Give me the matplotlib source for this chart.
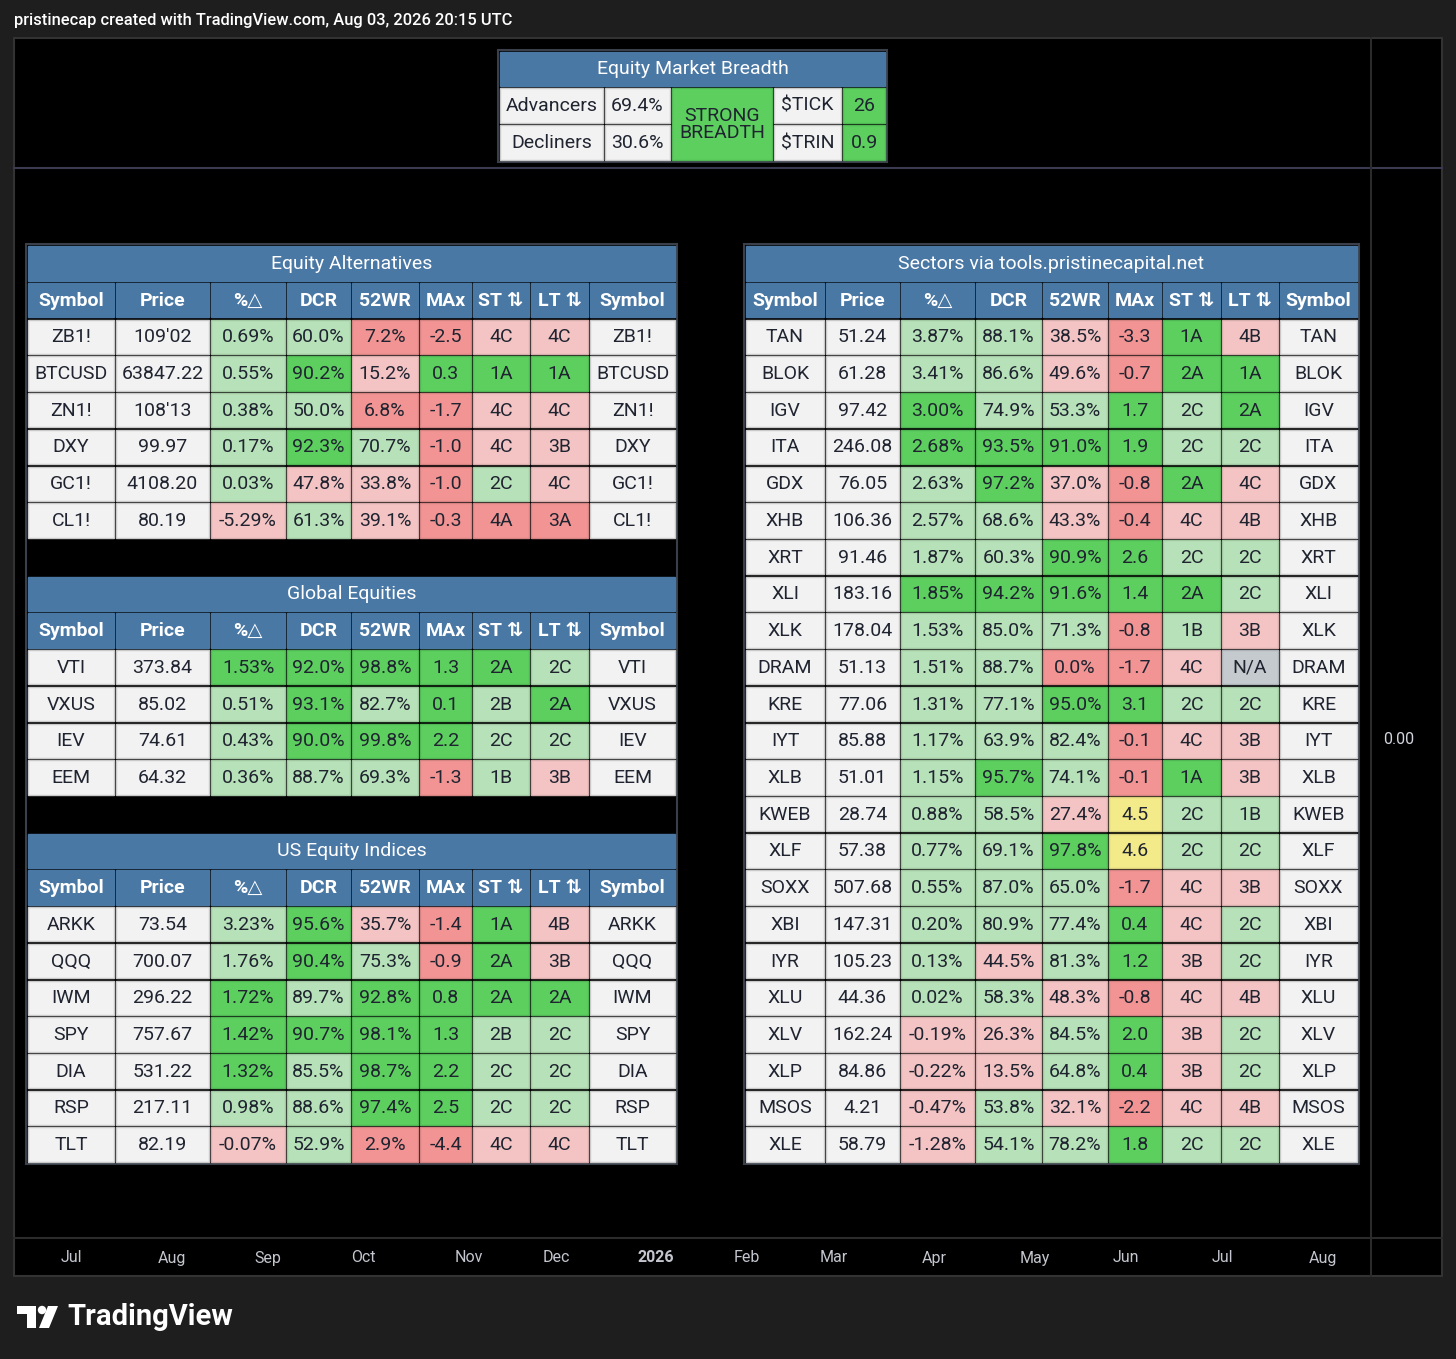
import matplotlib
matplotlib.use('Agg')
import matplotlib.pyplot as plt
from matplotlib.patches import Rectangle, Circle, Polygon
import matplotlib.colors as mcolors

plt.rcParams['font.family'] = ['Roboto', 'DejaVu Sans']

# ---------------- data ----------------
header_text = "pristinecap created with TradingView.com, Aug 03, 2026 20:15 UTC"

breadth_title = "Equity Market Breadth"
breadth_labels = ["Advancers", "Decliners"]
breadth_pct = ["69.4%", "30.6%"]
breadth_signal = "STRONG\nBREADTH"
breadth_ind_labels = ["$TICK", "$TRIN"]
breadth_ind_values = ["26", "0.9"]

columns = ["Symbol", "Price", "%\u25B3", "DCR", "52WR", "MAx", "ST \u21C5", "LT \u21C5", "Symbol"]

# Equity Alternatives
ea_symbols = ["ZB1!", "BTCUSD", "ZN1!", "DXY", "GC1!", "CL1!"]
ea_price = ["109'02", "63847.22", "108'13", "99.97", "4108.20", "80.19"]
ea_chg = ["0.69%", "0.55%", "0.38%", "0.17%", "0.03%", "-5.29%"]
ea_dcr = ["60.0%", "90.2%", "50.0%", "92.3%", "47.8%", "61.3%"]
ea_52wr = ["7.2%", "15.2%", "6.8%", "70.7%", "33.8%", "39.1%"]
ea_max = ["-2.5", "0.3", "-1.7", "-1.0", "-1.0", "-0.3"]
ea_st = ["4C", "1A", "4C", "4C", "2C", "4A"]
ea_lt = ["4C", "1A", "4C", "3B", "4C", "3A"]
ea_colors = ["ggRRrr", "gGrGGG", "ggRRrr", "gGgRrr", "grrRgr", "rgrRRR"]

# Global Equities
ge_symbols = ["VTI", "VXUS", "IEV", "EEM"]
ge_price = ["373.84", "85.02", "74.61", "64.32"]
ge_chg = ["1.53%", "0.51%", "0.43%", "0.36%"]
ge_dcr = ["92.0%", "93.1%", "90.0%", "88.7%"]
ge_52wr = ["98.8%", "82.7%", "99.8%", "69.3%"]
ge_max = ["1.3", "0.1", "2.2", "-1.3"]
ge_st = ["2A", "2B", "2C", "1B"]
ge_lt = ["2C", "2A", "2C", "3B"]
ge_colors = ["GGGGGg", "gGgGgG", "gGGGgg", "gggRgr"]

# US Equity Indices
us_symbols = ["ARKK", "QQQ", "IWM", "SPY", "DIA", "RSP", "TLT"]
us_price = ["73.54", "700.07", "296.22", "757.67", "531.22", "217.11", "82.19"]
us_chg = ["3.23%", "1.76%", "1.72%", "1.42%", "1.32%", "0.98%", "-0.07%"]
us_dcr = ["95.6%", "90.4%", "89.7%", "90.7%", "85.5%", "88.6%", "52.9%"]
us_52wr = ["35.7%", "75.3%", "92.8%", "98.1%", "98.7%", "97.4%", "2.9%"]
us_max = ["-1.4", "-0.9", "0.8", "1.3", "2.2", "2.5", "-4.4"]
us_st = ["1A", "2A", "2A", "2B", "2C", "2C", "4C"]
us_lt = ["4B", "3B", "2A", "2C", "2C", "2C", "4C"]
us_colors = ["gGrRGr", "gGgRGr", "GgGGGG", "GGGGgg", "GgGGgg", "ggGGgg", "rgRRrr"]

# Sectors
sc_symbols = ["TAN", "BLOK", "IGV", "ITA", "GDX", "XHB", "XRT", "XLI", "XLK", "DRAM", "KRE", "IYT",
              "XLB", "KWEB", "XLF", "SOXX", "XBI", "IYR", "XLU", "XLV", "XLP", "MSOS", "XLE"]
sc_price = ["51.24", "61.28", "97.42", "246.08", "76.05", "106.36", "91.46", "183.16", "178.04", "51.13",
            "77.06", "85.88", "51.01", "28.74", "57.38", "507.68", "147.31", "105.23", "44.36", "162.24",
            "84.86", "4.21", "58.79"]
sc_chg = ["3.87%", "3.41%", "3.00%", "2.68%", "2.63%", "2.57%", "1.87%", "1.85%", "1.53%", "1.51%",
          "1.31%", "1.17%", "1.15%", "0.88%", "0.77%", "0.55%", "0.20%", "0.13%", "0.02%", "-0.19%",
          "-0.22%", "-0.47%", "-1.28%"]
sc_dcr = ["88.1%", "86.6%", "74.9%", "93.5%", "97.2%", "68.6%", "60.3%", "94.2%", "85.0%", "88.7%",
          "77.1%", "63.9%", "95.7%", "58.5%", "69.1%", "87.0%", "80.9%", "44.5%", "58.3%", "26.3%",
          "13.5%", "53.8%", "54.1%"]
sc_52wr = ["38.5%", "49.6%", "53.3%", "91.0%", "37.0%", "43.3%", "90.9%", "91.6%", "71.3%", "0.0%",
           "95.0%", "82.4%", "74.1%", "27.4%", "97.8%", "65.0%", "77.4%", "81.3%", "48.3%", "84.5%",
           "64.8%", "32.1%", "78.2%"]
sc_max = ["-3.3", "-0.7", "1.7", "1.9", "-0.8", "-0.4", "2.6", "1.4", "-0.8", "-1.7", "3.1", "-0.1",
          "-0.1", "4.5", "4.6", "-1.7", "0.4", "1.2", "-0.8", "2.0", "0.4", "-2.2", "1.8"]
sc_st = ["1A", "2A", "2C", "2C", "2A", "4C", "2C", "2A", "1B", "4C", "2C", "4C", "1A", "2C", "2C", "4C",
         "4C", "3B", "4C", "3B", "3B", "4C", "2C"]
sc_lt = ["4B", "1A", "2A", "2C", "4C", "4B", "2C", "2C", "3B", "N/A", "2C", "3B", "3B", "1B", "2C", "3B",
         "2C", "2C", "4B", "2C", "2C", "4B", "2C"]
sc_colors = ["ggrRGr", "ggrRGG", "GggGgG", "GGGGgg", "gGrRGr", "ggrRrr", "ggGGgg", "GGGGGg", "gggRgr",
             "ggRRrN", "ggGGgg", "gggRrr", "gGgRGr", "ggrYgg", "ggGYgg", "gggRrr", "gggGrg", "grgGrg",
             "ggrRrr", "rrgGrg", "rrgGrg", "rgrRrr", "rggGgg"]

time_labels = ["Jul", "Aug", "Sep", "Oct", "Nov", "Dec", "2026", "Feb", "Mar", "Apr", "May", "Jun", "Jul", "Aug"]
price_label = "0.00"

# ---------------- styles ----------------
BG = '#1e1e1e'
PANE = '#000000'
GRIDLINE = '#2b2b2b'
SEPARATOR = '#3a3a52'
BLUE = '#4a78a5'
TXT = '#1f2430'
PALETTE = {
    'W': '#f2f2f2',
    'g': '#b7e1b8',
    'G': '#5ccf5f',
    'r': '#f4c4c4',
    'R': '#f29494',
    'Y': '#f3ea8a',
    'N': '#c5cacf',
    'B': BLUE,
}
FS = 14.0

fig = plt.figure(figsize=(14.56, 13.59), dpi=100, facecolor=BG)
ax = fig.add_axes([0, 0, 1, 1])
ax.set_xlim(0, 1456)
ax.set_ylim(1359, 0)
ax.axis('off')
ax.set_facecolor(BG)


def darker(c, f=0.85):
    r, g, b = mcolors.to_rgb(c)
    return (r * f, g * f, b * f)


def cell(x0, x1, y0, y1, code, text='', color=TXT, weight='normal', size=FS):
    face = PALETTE[code]
    edge = '#c9c9c9' if code == 'W' else darker(face, 0.88)
    if code == 'B':
        edge = face
    ax.add_patch(Rectangle((x0 + 1.2, y0 + 1.2), x1 - x0 - 2.4, y1 - y0 - 2.4,
                           facecolor=face, edgecolor=edge, lw=1.0, zorder=3))
    if text:
        ax.text((x0 + x1) / 2, (y0 + y1) / 2 + 0.5, text, ha='center', va='center',
                color=color, fontsize=size, fontweight=weight, zorder=4, parse_math=False,
                linespacing=0.95)


# ---------------- background frame ----------------
ax.text(14, 20, header_text, ha='left', va='center', color='#ffffff', fontsize=11.9,
        fontweight='medium', parse_math=False)
ax.add_patch(Rectangle((14, 38), 1428, 1238, facecolor=PANE, edgecolor='#333333', lw=1.5, zorder=1))
ax.plot([14, 1442], [168, 168], color=SEPARATOR, lw=1.5, zorder=2)
ax.plot([14, 1442], [1238, 1238], color=GRIDLINE, lw=1.5, zorder=2)
ax.plot([1371, 1371], [38, 1276], color=GRIDLINE, lw=1.5, zorder=2)

ax.text(1399, 740, price_label, ha='center', va='center', color='#d1d4dc', fontsize=11.5)
tick_x = [71, 172, 268, 363, 469, 556, 656, 747, 834, 934, 1035, 1126, 1222, 1323]
for xx, lab in zip(tick_x, time_labels):
    ax.text(xx, 1258, lab, ha='center', va='center', color='#c3c6ce', fontsize=11.5,
            fontweight='bold' if lab.isdigit() else 'normal')

# TradingView logo
ax.add_patch(Rectangle((17, 1306), 19, 8, facecolor='white', edgecolor='none'))
ax.add_patch(Rectangle((27, 1306), 9, 22, facecolor='white', edgecolor='none'))
ax.add_patch(Circle((42, 1310), 4.2, facecolor='white', edgecolor='none'))
ax.add_patch(Polygon([[48, 1306], [58, 1306], [49, 1328], [39, 1328]], closed=True,
                     facecolor='white', edgecolor='none'))
ax.text(67, 1317, "TradingView", ha='left', va='center', color='white', fontsize=21,
        fontweight='bold')

# ---------------- breadth table ----------------
bx = [499, 604, 671, 773, 842, 886]
by = [51, 87, 124, 161]
ax.add_patch(Rectangle((bx[0] - 1, by[0] - 1), bx[-1] - bx[0] + 2, by[-1] - by[0] + 2,
                       facecolor='black', edgecolor='#3a3f4a', lw=1.5, zorder=2))
cell(bx[0], bx[-1], by[0], by[1], 'B', breadth_title, color='white')
for i in range(2):
    cell(bx[0], bx[1], by[i + 1], by[i + 2], 'W', breadth_labels[i])
    cell(bx[1], bx[2], by[i + 1], by[i + 2], 'W', breadth_pct[i])
    cell(bx[3], bx[4], by[i + 1], by[i + 2], 'W', breadth_ind_labels[i])
    cell(bx[4], bx[5], by[i + 1], by[i + 2], 'G', breadth_ind_values[i])
cell(bx[2], bx[3], by[1], by[3], 'G', breadth_signal)

# ---------------- big tables ----------------
left_x = [27, 115, 210, 286, 351, 419, 472, 530, 589, 676]
right_x = [745, 825, 900, 975, 1042, 1108, 1162, 1221, 1279, 1358]
top = 245
bottom = 1163
nrows = 25
rh = (bottom - top) / nrows


def draw_section(xs, row0, title, syms, price, chg, dcr, wr, mx, st, lt, colors):
    y = lambda r: top + r * rh
    cell(xs[0], xs[-1], y(row0), y(row0 + 1), 'B', title, color='white')
    for j, h in enumerate(columns):
        cell(xs[j], xs[j + 1], y(row0 + 1), y(row0 + 2), 'B', h, color='white', weight='bold')
    for i in range(len(syms)):
        r = row0 + 2 + i
        vals = [syms[i], price[i], chg[i], dcr[i], wr[i], mx[i], st[i], lt[i], syms[i]]
        codes = 'WW' + colors[i] + 'W'
        for j in range(9):
            cell(xs[j], xs[j + 1], y(r), y(r + 1), codes[j], vals[j])


for xs in (left_x, right_x):
    ax.add_patch(Rectangle((xs[0] - 1, top - 1), xs[-1] - xs[0] + 2, bottom - top + 2,
                           facecolor='black', edgecolor='#3a3f4a', lw=1.5, zorder=2))

draw_section(left_x, 0, "Equity Alternatives", ea_symbols, ea_price, ea_chg, ea_dcr, ea_52wr,
             ea_max, ea_st, ea_lt, ea_colors)
draw_section(left_x, 9, "Global Equities", ge_symbols, ge_price, ge_chg, ge_dcr, ge_52wr,
             ge_max, ge_st, ge_lt, ge_colors)
draw_section(left_x, 16, "US Equity Indices", us_symbols, us_price, us_chg, us_dcr, us_52wr,
             us_max, us_st, us_lt, us_colors)
draw_section(right_x, 0, "Sectors via tools.pristinecapital.net", sc_symbols, sc_price, sc_chg,
             sc_dcr, sc_52wr, sc_max, sc_st, sc_lt, sc_colors)

fig.savefig('out.png', dpi=100, facecolor=BG)
